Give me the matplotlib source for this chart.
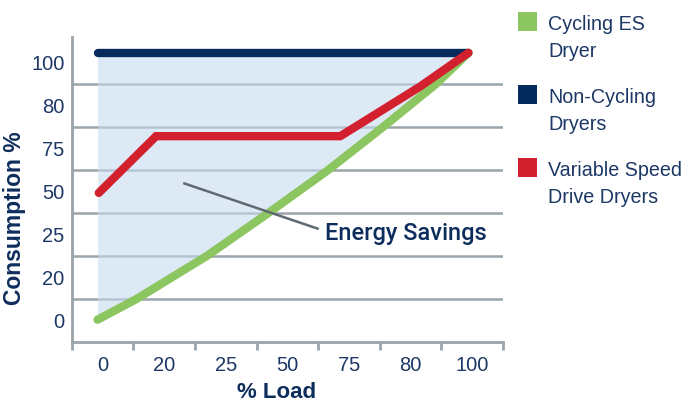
import matplotlib
matplotlib.use("Agg")
import matplotlib.pyplot as plt
from matplotlib.patches import Rectangle

plt.rcParams['font.family'] = ['Liberation Sans', 'DejaVu Sans']

# axis labels (shown between tick marks, one per interval)
load_labels = ["0", "20", "25", "50", "75", "80", "100"]
cons_labels = ["0", "20", "25", "50", "75", "80", "100"]

# curves in axis-interval units (1 unit = one tick interval)
non_cycling_x = [0.43, 6.43]
non_cycling_y = [6.73, 6.73]

vsd_x = [0.44, 1.37, 4.36, 5.0, 5.65, 6.44]
vsd_y = [3.47, 4.79, 4.79, 5.36, 5.94, 6.73]

cycling_x = [0.42, 1.05, 1.62, 2.19, 3.19, 4.16, 5.05, 5.91, 6.44]
cycling_y = [0.52, 1.00, 1.50, 2.00, 3.00, 4.00, 5.00, 6.00, 6.73]

legend_labels = ["Cycling ES\nDryer", "Non-Cycling\nDryers", "Variable Speed\nDrive Dryers"]
legend_colors = ["#8cc660", "#042b5c", "#d2202f"]

navy_text = "#1d3866"
gray = "#9aa5ab"

fig = plt.figure(figsize=(6.89, 4.01), dpi=100)
ax = fig.add_axes([0.104, 0.147, 0.626, 0.761])
ax.set_xlim(0, 7)
ax.set_ylim(0, 7.1)

for s in ["top", "right"]:
    ax.spines[s].set_visible(False)
for s in ["left", "bottom"]:
    ax.spines[s].set_color(gray)
    ax.spines[s].set_linewidth(2)

# gridlines
for yv in range(1, 7):
    ax.axhline(yv, color=gray, lw=1.8, zorder=1)

# energy savings area
ax.fill_between(cycling_x, cycling_y, non_cycling_y[0], color=(200/255, 219/255, 240/255),
                alpha=0.6, lw=0, zorder=2)

ax.plot(non_cycling_x, non_cycling_y, color=legend_colors[1], lw=6, solid_capstyle='round', zorder=4)
ax.plot(vsd_x, vsd_y, color=legend_colors[2], lw=6, solid_capstyle='round',
        solid_joinstyle='miter', zorder=4)
ax.plot(cycling_x, cycling_y, color=legend_colors[0], lw=6, solid_capstyle='round',
        solid_joinstyle='round', zorder=3)

# annotation
ax.plot([1.83, 3.99], [3.69, 2.64], color="#5f6a70", lw=1.8, zorder=5)
ax.text(4.11, 2.53, "Energy Savings", fontsize=17, family=['Roboto', 'Liberation Sans'],
        fontweight='medium', color="#0d2d5c", va='center', ha='left', zorder=6)

# ticks
ax.set_xticks(range(0, 8))
ax.set_xticklabels([])
ax.set_xticks([i + 0.5 for i in range(7)], minor=True)
ax.set_xticklabels(load_labels, minor=True)
ax.tick_params(axis='x', which='major', length=6, width=2, color=gray)
ax.tick_params(axis='x', which='minor', length=0, pad=10, labelsize=14.5, labelcolor=navy_text)

ax.set_yticks([])
ax.set_yticks([i + 0.5 for i in range(7)], minor=True)
ax.set_yticklabels(cons_labels, minor=True)
ax.tick_params(axis='y', which='minor', length=0, pad=5, labelsize=14.5, labelcolor=navy_text)

fig.text(15 / 689, 1 - 218 / 401, "Consumption %", rotation=90, fontsize=16.5, fontweight='bold',
         color="#0d2d5c", ha='center', va='center')
fig.text(277 / 689, 1 - 392 / 401, "% Load", fontsize=16, fontweight='bold',
         color="#0d2d5c", ha='center', va='center')

# legend
tops = [12, 85, 158]
for lab, col, top in zip(legend_labels, legend_colors, tops):
    fig.patches.append(Rectangle((518 / 689, 1 - (top + 19) / 401), 19 / 689, 19 / 401,
                                 transform=fig.transFigure, color=col, lw=0))
    line1, line2 = lab.split("\n")
    fig.text(548 / 689, 1 - (top + 18) / 401, line1, fontsize=14.2, color=navy_text, va='baseline')
    fig.text(548 / 689, 1 - (top + 45) / 401, line2, fontsize=14.2, color=navy_text, va='baseline')

fig.savefig("out.png", dpi=100)
